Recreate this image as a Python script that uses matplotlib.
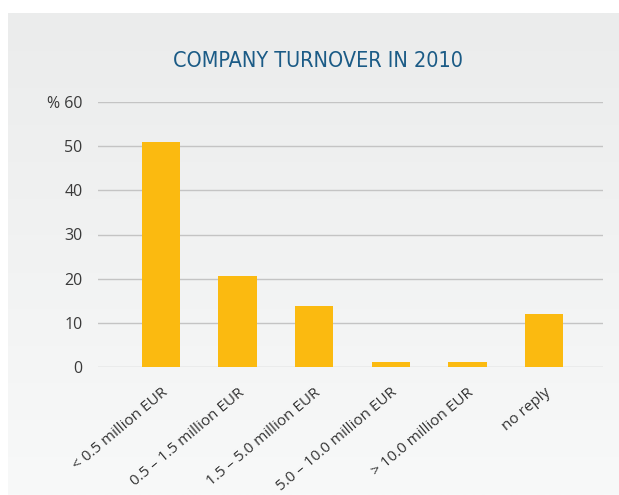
import numpy as np
import matplotlib
matplotlib.use("Agg")
import matplotlib.pyplot as plt

categories = ["< 0.5 million EUR", "0.5 – 1.5 million EUR", "1.5 – 5.0 million EUR",
              "5.0 – 10.0 million EUR", "> 10.0 million EUR", "no reply"]
shares = [51.0, 20.6, 13.8, 1.1, 1.1, 12.0]
y_ticks = [0, 10, 20, 30, 40, 50, 60]
y_labels = ["0", "10", "20", "30", "40", "50", "% 60"]
title = "COMPANY TURNOVER IN 2010"

plt.rcParams['font.family'] = ['Open Sans', 'DejaVu Sans']

fig = plt.figure(figsize=(6.19, 4.95), dpi=100)
fig.patch.set_facecolor("white")

# soft grey panel behind the chart
bg = fig.add_axes([8 / 619, 0, 1 - 8 / 619, 1 - 13 / 495], zorder=-10)
grad = np.linspace(0, 1, 256).reshape(-1, 1)
top = np.array([235, 236, 236]) / 255
bottom = np.array([248, 249, 249]) / 255
img = top + (bottom - top) * grad[..., None]
bg.imshow(img, aspect="auto", extent=[0, 1, 0, 1])
bg.axis("off")

ax = fig.add_axes([98 / 619, 1 - 367 / 495, (603 - 98) / 619, (367 - 102) / 495])
ax.set_facecolor("none")
x = np.arange(len(categories))
ax.bar(x, shares, width=0.5, color="#fbba10", zorder=3)

ax.set_ylim(0, 60)
ax.set_xlim(-0.82, 5.77)
ax.set_yticks(y_ticks)
ax.set_yticklabels(y_labels, fontsize=11.5, color="#3a3a3a")
for y in y_ticks:
    ax.axhline(y, color="#c4c4c4", linewidth=1, zorder=1)
ax.tick_params(axis="y", length=0, pad=11)
ax.tick_params(axis="x", length=0, pad=13)
ax.set_xticks(x)
ax.set_xticklabels(categories, rotation=40, ha="right", va="top",
                   rotation_mode="anchor", fontsize=11, color="#333333")
for s in ax.spines.values():
    s.set_visible(False)

fig.text(318 / 619, 1 - 61 / 495, title, ha="center", va="center",
         fontsize=15.5, color="#1b5b86", fontstretch="condensed",
         family=["DejaVu Sans", "Liberation Sans Narrow"])

fig.savefig("out.png", dpi=100)
